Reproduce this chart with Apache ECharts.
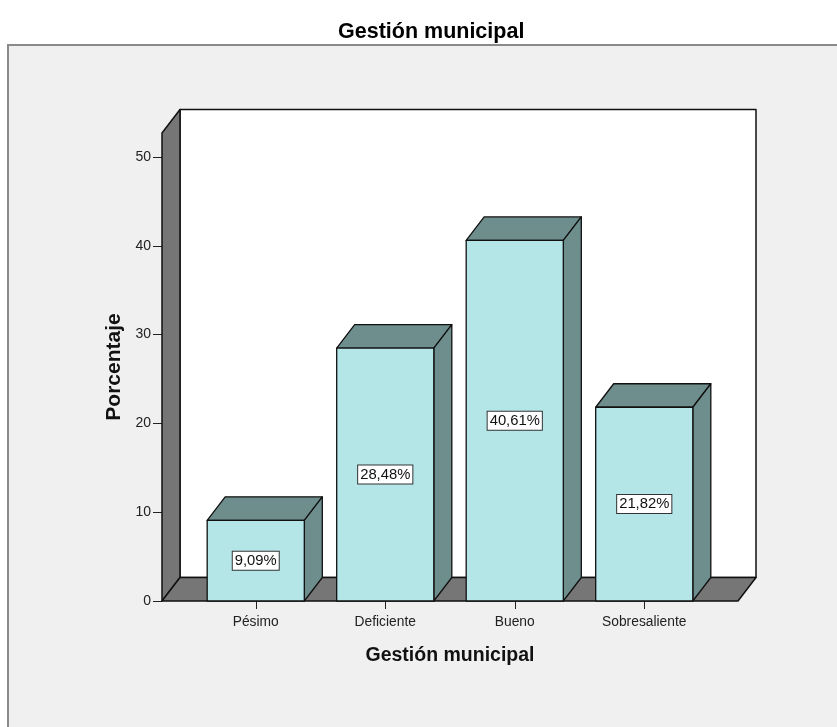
<!DOCTYPE html>
<html>
<head>
<meta charset="utf-8">
<script src="https://cdn.jsdelivr.net/npm/echarts@6/dist/echarts.min.js"></script>
<style>html,body{margin:0;padding:0;background:#fff}#c{width:837px;height:727px}</style>
</head>
<body>
<div id="c"></div>
<script>
var categories = ['Pésimo', 'Deficiente', 'Bueno', 'Sobresaliente'];
var values = [9.09, 28.48, 40.61, 21.82];
var yTicks = [0, 10, 20, 30, 40, 50];
var wallTopValue = 52.7;

var DX = 18, DY = -23.5, PAD = 29;
var FRONT = '#b4e6e8', DARK = '#6e8e8d', WALL = '#767676', EDGE = '#111';
var FONT = 'Liberation Sans, Arial, sans-serif';

function fmt(v) { return v.toFixed(2).replace('.', ',') + '%'; }

var chart = echarts.init(document.getElementById('c'), null, {renderer: 'canvas'});
chart.setOption({
  animation: false,
  backgroundColor: '#fff',
  title: {
    text: 'Gestión municipal', left: 333, top: 16,
    textStyle: {fontFamily: FONT, fontWeight: 'bold', fontSize: 21.5, color: '#000'}
  },
  graphic: [{
    type: 'rect', z: -10, silent: true,
    shape: {x: 8, y: 45, width: 840, height: 700},
    style: {fill: '#f0f0f0', stroke: '#8a8a8a', lineWidth: 2}
  }],
  grid: {left: 191, right: 128, top: 157, bottom: 126},
  xAxis: {
    type: 'category', data: categories,
    axisLine: {show: false},
    axisTick: {show: true, alignWithLabel: true, length: 8, lineStyle: {color: '#222', width: 1}},
    axisLabel: {margin: 14, fontSize: 13.8, color: '#222', fontFamily: FONT},
    name: 'Gestión municipal', nameLocation: 'middle', nameGap: 45,
    nameTextStyle: {fontWeight: 'bold', fontSize: 19.5, color: '#111', fontFamily: FONT}
  },
  yAxis: {
    type: 'value', min: 0, max: 50, interval: 10, offset: PAD,
    axisLine: {show: false},
    axisTick: {show: true, length: 9, lineStyle: {color: '#222', width: 1}},
    axisLabel: {margin: 11, fontSize: 14, color: '#222', fontFamily: FONT,
      formatter: function (v) { return yTicks.indexOf(v) >= 0 ? String(v) : ''; }},
    splitLine: {show: false},
    name: 'Porcentaje', nameLocation: 'middle', nameGap: 37, nameRotate: 90,
    nameTextStyle: {fontWeight: 'bold', fontSize: 21, color: '#111', fontFamily: FONT, padding: [0, 0, 0, 24]}
  },
  series: [{
    type: 'custom', silent: true, z: 1,
    data: [[0, 0]],
    renderItem: function (params, api) {
      var cs = params.coordSys;
      var x0 = cs.x - PAD, x1 = cs.x + cs.width + PAD;
      var yb = api.coord([0, 0])[1];
      var yt = api.coord([0, wallTopValue])[1];
      var ls = {stroke: EDGE, lineWidth: 1.5, lineJoin: 'round'};
      return {type: 'group', children: [
        {type: 'polygon', shape: {points: [[x0 + DX, yb + DY], [x1 + DX, yb + DY], [x1 + DX, yt + DY], [x0 + DX, yt + DY]]},
          style: Object.assign({fill: '#fff'}, ls)},
        {type: 'polygon', shape: {points: [[x0, yb], [x0, yt], [x0 + DX, yt + DY], [x0 + DX, yb + DY]]},
          style: Object.assign({fill: WALL}, ls)},
        {type: 'polygon', shape: {points: [[x0, yb], [x1, yb], [x1 + DX, yb + DY], [x0 + DX, yb + DY]]},
          style: Object.assign({fill: WALL}, ls)}
      ]};
    }
  }, {
    type: 'custom', silent: true, z: 2,
    data: values.map(function (v, i) { return [i, v]; }),
    renderItem: function (params, api) {
      var i = api.value(0), v = api.value(1);
      var band = api.size([1, 0])[0];
      var hw = band * 0.375;
      var base = api.coord([i, 0]);
      var top = api.coord([i, v]);
      var mid = api.coord([i, v / 2]);
      var l = base[0] - hw, r = base[0] + hw, yb = base[1], yt = top[1];
      var ls = {stroke: EDGE, lineWidth: 1.3, lineJoin: 'round'};
      return {type: 'group', children: [
        {type: 'polygon', shape: {points: [[l, yt], [r, yt], [r + DX, yt + DY], [l + DX, yt + DY]]},
          style: Object.assign({fill: DARK}, ls)},
        {type: 'polygon', shape: {points: [[r, yt], [r, yb], [r + DX, yb + DY], [r + DX, yt + DY]]},
          style: Object.assign({fill: DARK}, ls)},
        {type: 'rect', shape: {x: l, y: yt, width: r - l, height: yb - yt},
          style: Object.assign({fill: FRONT}, ls)},
        {type: 'text', x: mid[0], y: mid[1], style: {
          text: fmt(v), align: 'center', verticalAlign: 'middle',
          fontSize: 14.8, fontFamily: FONT, fill: '#111',
          backgroundColor: '#fff', borderColor: '#333', borderWidth: 1, padding: [2, 2, 1, 2]
        }}
      ]};
    }
  }]
});
</script>
</body>
</html>
